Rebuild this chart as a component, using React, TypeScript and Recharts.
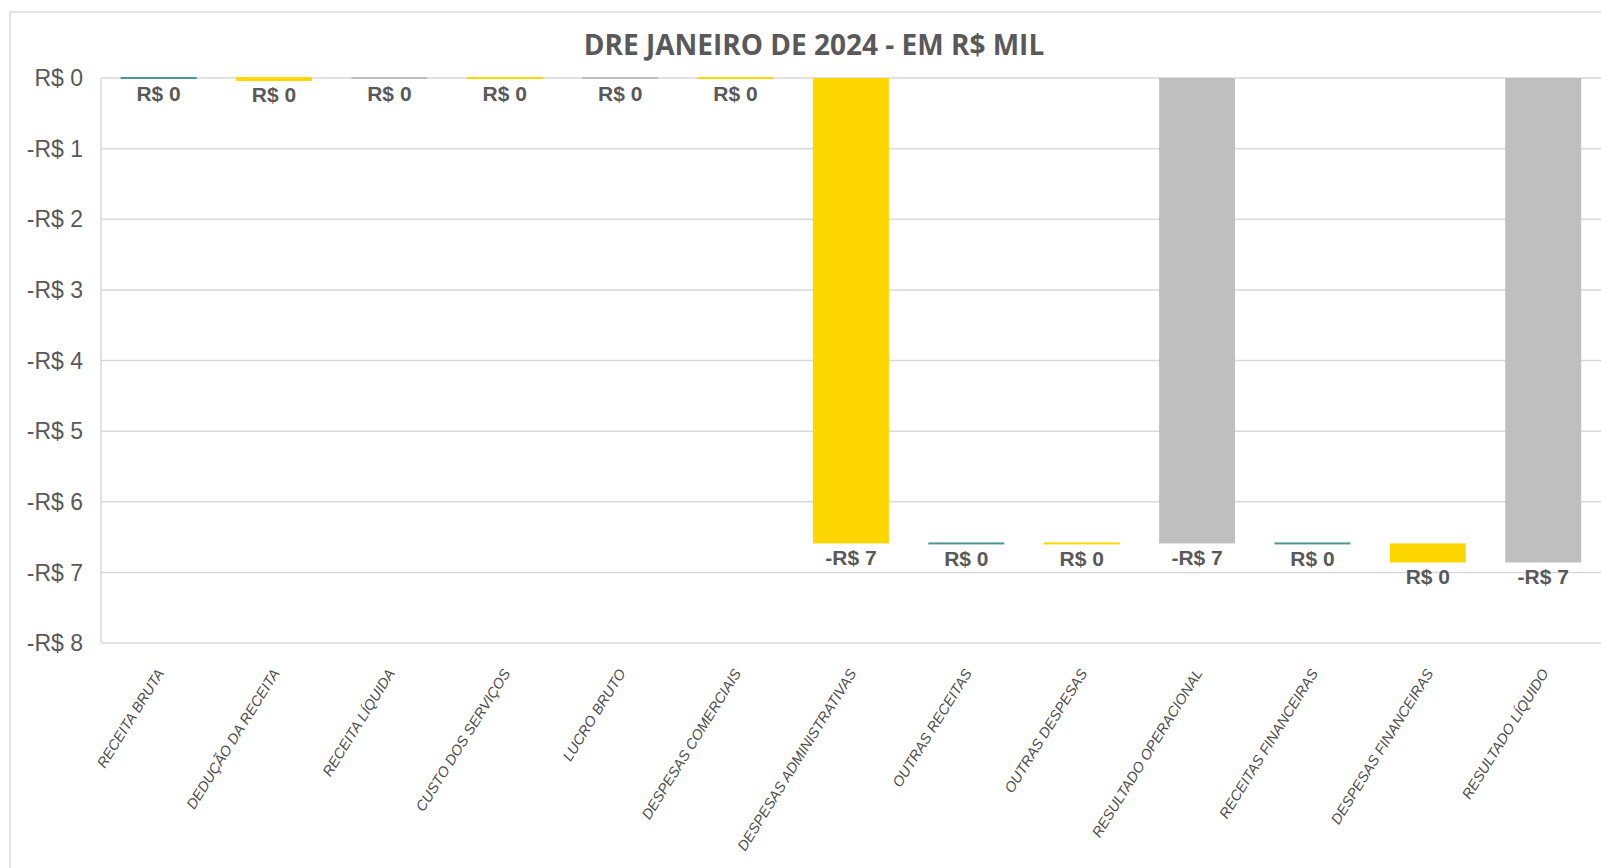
import React from 'react'
import { BarChart, Bar, XAxis, YAxis, CartesianGrid } from 'recharts'

type Kind = 'inc' | 'dec' | 'total'

// categorias do DRE (eixo X)
const categories = [
  'RECEITA BRUTA',
  'DEDUÇÃO DA RECEITA',
  'RECEITA LÍQUIDA',
  'CUSTO DOS SERVIÇOS',
  'LUCRO BRUTO',
  'DESPESAS COMERCIAIS',
  'DESPESAS ADMINISTRATIVAS',
  'OUTRAS RECEITAS',
  'OUTRAS DESPESAS',
  'RESULTADO OPERACIONAL',
  'RECEITAS FINANCEIRAS',
  'DESPESAS FINANCEIRAS',
  'RESULTADO LÍQUIDO',
]

// valores em R$ mil (variações; totais já acumulados)
const values = [0, -0.03, 0, 0, 0, 0, -6.59, 0, 0, -6.59, 0, -0.27, -6.86]

const kinds: Kind[] = [
  'inc', 'dec', 'total', 'dec', 'total', 'dec', 'dec',
  'inc', 'dec', 'total', 'inc', 'dec', 'total',
]

const yTicks = [0, -1, -2, -3, -4, -5, -6, -7, -8]

const COLORS: Record<Kind, string> = {
  inc: '#4A9893',
  dec: '#FFD700',
  total: '#BFBFBF',
}

const TEXT = '#595959'

// monta as barras flutuantes do waterfall
let level = 0
const rows = categories.map((name, i) => {
  const v = values[i]
  const kind = kinds[i]
  let start = level
  let end = level + v
  if (kind === 'total') {
    start = 0
    end = v
  }
  level = end
  return { name, range: [start, end], value: v, kind }
})

const money = (v: number) => {
  const r = Math.round(v)
  if (r === 0) return 'R$ 0'
  return r < 0 ? `-R$ ${-r}` : `R$ ${r}`
}

const WaterfallBar = (props: any) => {
  let { x, y, width, height } = props
  const { payload } = props
  if (height < 0) {
    y += height
    height = -height
  }
  const bottom = y + height
  let ry = y
  let rh = height
  // barras de valor zero aparecem como um traço
  const minH = payload.kind === 'dec' && payload.value !== 0 ? 4 : 2
  if (rh < minH) {
    ry = y + rh / 2 - minH / 2
    rh = minH
  }
  return (
    <g>
      <rect x={x} y={ry} width={width} height={rh} fill={COLORS[payload.kind as Kind]} />
      <text
        x={x + width / 2}
        y={Math.max(bottom, y + 1) + 14}
        textAnchor="middle"
        dominantBaseline="central"
        fontSize={21}
        fontWeight="bold"
        fill={TEXT}
      >
        {money(payload.value)}
      </text>
    </g>
  )
}

const CategoryTick = (props: any) => {
  const { x, y, payload } = props
  return (
    <text
      transform={`translate(${x + 6},${y + 22}) rotate(-58)`}
      textAnchor="end"
      fontSize={14.5}
      fontStyle="italic"
      fill="#4D4D4D"
    >
      {payload.value}
    </text>
  )
}

const App: React.FC = () => {
  return (
    <div
      style={{
        position: 'absolute',
        left: 0,
        top: 0,
        width: 1601,
        height: 868,
        overflow: 'hidden',
        background: '#fff',
        fontFamily: '"Liberation Sans", Arial, sans-serif',
      }}
    >
      <div
        style={{
          position: 'absolute',
          left: 9,
          top: 11,
          width: 1700,
          height: 1000,
          border: '2px solid #E3E3E3',
        }}
      />
      <svg
        width={1601}
        height={70}
        style={{ position: 'absolute', left: 0, top: 0 }}
      >
        <text
          x={814}
          y={55}
          textAnchor="middle"
          fontFamily='"Open Sans", sans-serif'
          fontWeight={700}
          fontSize={28}
          fill={TEXT}
        >
          DRE JANEIRO DE 2024 - EM R$ MIL
        </text>
      </svg>
      <div style={{ position: 'absolute', left: 0, top: 0 }}>
        <BarChart
          width={1601}
          height={868}
          data={rows}
          margin={{ top: 78, right: 0, left: 0, bottom: 0 }}
          barCategoryGap="17%"
        >
          <CartesianGrid vertical={false} stroke="#D9D9D9" strokeWidth={1.5} />
          <XAxis
            dataKey="name"
            height={225}
            interval={0}
            axisLine={false}
            tickLine={false}
            tick={<CategoryTick />}
          />
          <YAxis
            width={101}
            domain={[-8, 0]}
            ticks={yTicks}
            interval={0}
            tickLine={false}
            tickSize={0}
            tickMargin={18}
            axisLine={{ stroke: '#D9D9D9', strokeWidth: 1.5 }}
            tickFormatter={money}
            tick={{ fill: TEXT, fontSize: 23 }}
          />
          <Bar dataKey="range" isAnimationActive={false} shape={<WaterfallBar />} />
        </BarChart>
      </div>
    </div>
  )
}

export default App
